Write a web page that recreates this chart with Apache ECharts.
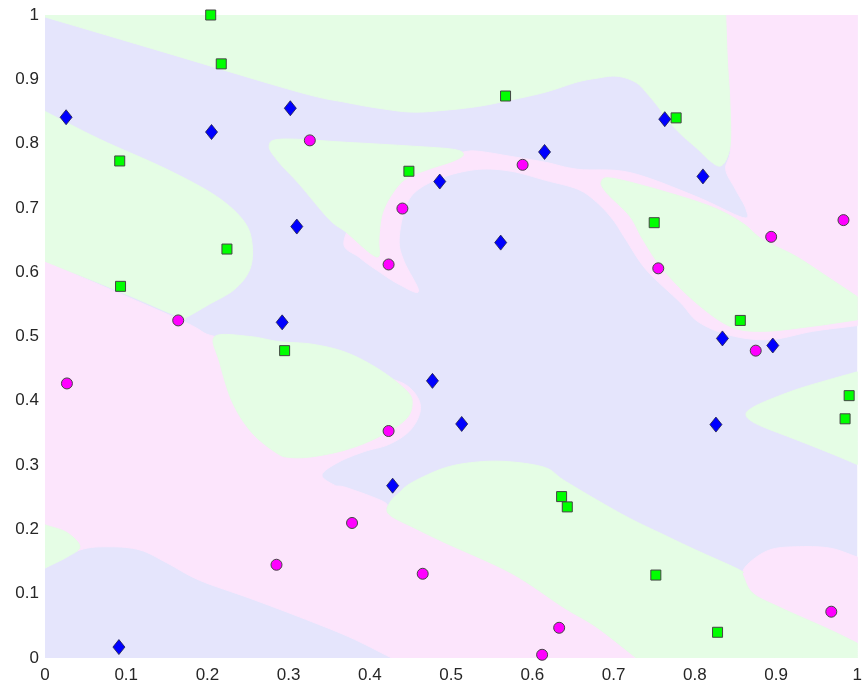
<!DOCTYPE html>
<html>
<head>
<meta charset="utf-8">
<script src="https://cdn.jsdelivr.net/npm/echarts@6/dist/echarts.min.js"></script>
<style>html,body{margin:0;padding:0;background:#fff;}#c{width:865px;height:690px;}</style>
</head>
<body>
<div id="c"></div>
<script>
// tick labels
var xTickLabels = ['0','0.1','0.2','0.3','0.4','0.5','0.6','0.7','0.8','0.9','1'];
var yTickLabels = ['0','0.1','0.2','0.3','0.4','0.5','0.6','0.7','0.8','0.9','1'];

// class points
var greenSquares = [[0.204,1.0],[0.217,0.924],[0.092,0.773],[0.224,0.636],[0.093,0.578],[0.295,0.478],
  [0.567,0.874],[0.448,0.757],[0.777,0.840],[0.750,0.677],[0.856,0.525],[0.990,0.408],[0.985,0.372],
  [0.636,0.251],[0.643,0.235],[0.752,0.129],[0.828,0.040]];
var blueDiamonds = [[0.026,0.841],[0.205,0.818],[0.302,0.855],[0.310,0.671],[0.292,0.522],[0.486,0.741],
  [0.615,0.787],[0.561,0.646],[0.763,0.838],[0.810,0.749],[0.834,0.497],[0.896,0.486],[0.826,0.363],
  [0.477,0.431],[0.513,0.364],[0.428,0.268],[0.091,0.017]];
var magentaCircles = [[0.326,0.805],[0.588,0.767],[0.440,0.699],[0.423,0.612],[0.423,0.353],[0.164,0.525],
  [0.027,0.427],[0.983,0.681],[0.894,0.655],[0.755,0.606],[0.875,0.478],[0.285,0.145],[0.378,0.210],
  [0.465,0.131],[0.633,0.047],[0.612,0.005],[0.968,0.072]];

// decision regions (blue is the background class)
var pinkRegions = [
  [[0.838,1],[1,1],[1,0.517],[0.945,0.508],[0.892,0.495],[0.843,0.502],[0.804,0.523],[0.782,0.553],
   [0.740,0.604],[0.715,0.651],[0.699,0.682],[0.679,0.709],[0.656,0.729],[0.616,0.743],[0.574,0.757],
   [0.534,0.760],[0.493,0.749],[0.460,0.729],[0.444,0.702],[0.436,0.651],[0.442,0.617],[0.460,0.570],
   [0.436,0.581],[0.411,0.601],[0.387,0.623],[0.368,0.648],[0.399,0.713],[0.472,0.776],[0.515,0.787],
   [0.534,0.788],[0.574,0.780],[0.616,0.771],[0.656,0.760],[0.720,0.755],[0.801,0.718],[0.859,0.685],
   [0.863,0.698],[0.850,0.729],[0.838,0.760],[0.844,0.791],[0.843,0.869],[0.840,0.931]],
  [[0.859,0.129],[0.867,0.148],[0.892,0.168],[0.924,0.173],[0.966,0.171],[1,0.157],[1,0.023],
   [0.966,0.044],[0.904,0.079],[0.871,0.101]],
  [[0,0.617],[0.166,0.526],[0.209,0.500],[0.288,0.489],[0.371,0.474],[0.411,0.442],[0.444,0.425],
   [0.460,0.402],[0.461,0.379],[0.448,0.352],[0.423,0.332],[0.393,0.321],[0.362,0.305],[0.341,0.285],
   [0.356,0.269],[0.371,0.265],[0.417,0.243],[0.421,0.231],[0.427,0.220],[0.452,0.204],[0.493,0.179],
   [0.574,0.132],[0.638,0.079],[0.679,0.048],[0.728,0],[0.427,0],[0.374,0.033],[0.313,0.064],
   [0.252,0.093],[0.190,0.121],[0.150,0.148],[0.117,0.168],[0.080,0.173],[0.043,0.168],[0,0.140]]
];
var greenRegions = [
  [[0,1],[0.838,1],[0.840,0.931],[0.843,0.869],[0.844,0.807],[0.840,0.779],[0.831,0.765],[0.818,0.774],
   [0.804,0.791],[0.785,0.812],[0.769,0.833],[0.755,0.857],[0.742,0.877],[0.730,0.893],[0.715,0.902],
   [0.699,0.905],[0.681,0.902],[0.656,0.896],[0.616,0.880],[0.574,0.868],[0.534,0.858],[0.493,0.852],
   [0.452,0.849],[0.411,0.855],[0.371,0.864],[0.313,0.880],[0.150,0.941],[0,0.997]],
  [[0.276,0.796],[0.292,0.807],[0.371,0.802],[0.452,0.796],[0.503,0.791],[0.515,0.783],[0.503,0.773],
   [0.472,0.760],[0.444,0.745],[0.427,0.721],[0.415,0.690],[0.411,0.651],[0.411,0.625],[0.399,0.631],
   [0.371,0.662],[0.350,0.682],[0.313,0.737],[0.288,0.771]],
  [[0.685,0.741],[0.699,0.746],[0.761,0.726],[0.822,0.701],[0.859,0.676],[0.883,0.651],[0.924,0.625],
   [0.963,0.593],[1,0.562],[1,0.526],[0.945,0.516],[0.883,0.508],[0.843,0.516],[0.801,0.553],
   [0.761,0.604],[0.736,0.651],[0.720,0.687],[0.691,0.724]],
  [[0.863,0.379],[0.867,0.386],[0.883,0.397],[0.924,0.417],[0.966,0.433],[1,0.445],[1,0.301],
   [0.966,0.319],[0.924,0.340],[0.883,0.360],[0.867,0.371]],
  [[0.421,0.231],[0.427,0.246],[0.436,0.257],[0.452,0.273],[0.493,0.296],[0.534,0.305],[0.574,0.305],
   [0.616,0.296],[0.638,0.277],[0.679,0.246],[0.720,0.217],[0.761,0.192],[0.801,0.168],[0.855,0.137],
   [0.859,0.129],[0.871,0.101],[0.904,0.079],[0.966,0.044],[1,0.023],[1,0],[0.728,0],[0.679,0.048],
   [0.638,0.079],[0.574,0.132],[0.493,0.179],[0.452,0.204],[0.427,0.220]],
  [[0,0.850],[0.067,0.807],[0.150,0.760],[0.211,0.718],[0.245,0.679],[0.255,0.643],[0.252,0.604],
   [0.233,0.573],[0.202,0.550],[0.174,0.530],[0.166,0.530],[0.092,0.570],[0,0.617]],
  [[0.209,0.500],[0.252,0.500],[0.288,0.492],[0.329,0.488],[0.371,0.475],[0.411,0.449],[0.444,0.417],
   [0.452,0.397],[0.444,0.371],[0.411,0.344],[0.371,0.324],[0.329,0.313],[0.301,0.312],[0.285,0.319],
   [0.255,0.350],[0.231,0.397],[0.215,0.460]],
  [[0,0.207],[0.027,0.195],[0.043,0.173],[0.027,0.157],[0,0.140]]
];

var chart = echarts.init(document.getElementById('c'), null, {renderer: 'canvas'});
var FONT = 'Liberation Sans, Arial, Helvetica, sans-serif';
var LABEL_COLOR = '#262626';
var COL_BLUE_BG = '#e5e5fc', COL_PINK_BG = '#fce5fc', COL_GREEN_BG = '#e5fde5';

function onFrame(p) { return p[0] <= 0 || p[0] >= 1 || p[1] <= 0 || p[1] >= 1; }

// closed Catmull-Rom outline through the mapped vertices (rendering only);
// vertices on the plot frame are kept as sharp corners.
function smoothRing(pts, sharp, steps) {
  var out = [], n = pts.length;
  for (var i = 0; i < n; i++) {
    var i0 = (i - 1 + n) % n, i2 = (i + 1) % n, i3 = (i + 2) % n;
    var p1 = pts[i], p2 = pts[i2];
    var p0 = sharp[i] ? [2 * p1[0] - p2[0], 2 * p1[1] - p2[1]] : pts[i0];
    var p3 = sharp[i2] ? [2 * p2[0] - p1[0], 2 * p2[1] - p1[1]] : pts[i3];
    for (var s = 0; s < steps; s++) {
      var t = s / steps, t2 = t * t, t3 = t2 * t;
      var x = 0.5 * ((2 * p1[0]) + (-p0[0] + p2[0]) * t + (2 * p0[0] - 5 * p1[0] + 4 * p2[0] - p3[0]) * t2 + (-p0[0] + 3 * p1[0] - 3 * p2[0] + p3[0]) * t3);
      var y = 0.5 * ((2 * p1[1]) + (-p0[1] + p2[1]) * t + (2 * p0[1] - 5 * p1[1] + 4 * p2[1] - p3[1]) * t2 + (-p0[1] + 3 * p1[1] - 3 * p2[1] + p3[1]) * t3);
      out.push([x, y]);
    }
  }
  return out;
}

function regionSeries(regions, color) {
  return {
    type: 'custom',
    silent: true,
    clip: true,
    z: 1,
    data: regions.map(function (r, i) { return [i]; }),
    encode: {x: -1, y: -1},
    renderItem: function (params, api) {
      var poly = regions[params.dataIndex];
      var sharp = poly.map(onFrame);
      var pts = smoothRing(poly.map(function (p) { return api.coord(p); }), sharp, 8);
      return {
        type: 'polygon',
        shape: {points: pts},
        style: {fill: color, stroke: color, lineWidth: 1}
      };
    }
  };
}

function tickFormatter(labels) {
  return function (v) { return labels[Math.round(v * 10)]; };
}

var option = {
  animation: false,
  backgroundColor: '#ffffff',
  grid: {left: 45, top: 15, width: 815, height: 643, show: true, backgroundColor: COL_BLUE_BG, borderWidth: 0},
  xAxis: {
    type: 'value', min: 0, max: 1, interval: 0.1,
    axisLine: {show: false}, axisTick: {show: false}, splitLine: {show: false},
    axisLabel: {formatter: tickFormatter(xTickLabels), fontSize: 17, color: LABEL_COLOR, fontFamily: FONT, margin: 9}
  },
  yAxis: {
    type: 'value', min: 0, max: 1, interval: 0.1,
    axisLine: {show: false}, axisTick: {show: false}, splitLine: {show: false},
    axisLabel: {formatter: tickFormatter(yTickLabels), fontSize: 17, color: LABEL_COLOR, fontFamily: FONT, margin: 6}
  },
  series: [
    regionSeries(pinkRegions, COL_PINK_BG),
    regionSeries(greenRegions, COL_GREEN_BG),
    {
      type: 'scatter', z: 5, data: greenSquares, symbol: 'rect', symbolSize: 10,
      itemStyle: {color: '#00ff00', borderColor: '#444444', borderWidth: 1, opacity: 1}
    },
    {
      type: 'scatter', z: 5, data: blueDiamonds, symbol: 'diamond', symbolSize: [12, 15],
      itemStyle: {color: '#0000ff', borderColor: '#222244', borderWidth: 0.8, opacity: 1}
    },
    {
      type: 'scatter', z: 5, data: magentaCircles, symbol: 'circle', symbolSize: 11,
      itemStyle: {color: '#ff00ff', borderColor: '#444444', borderWidth: 1, opacity: 1}
    }
  ]
};
chart.setOption(option);
</script>
</body>
</html>
